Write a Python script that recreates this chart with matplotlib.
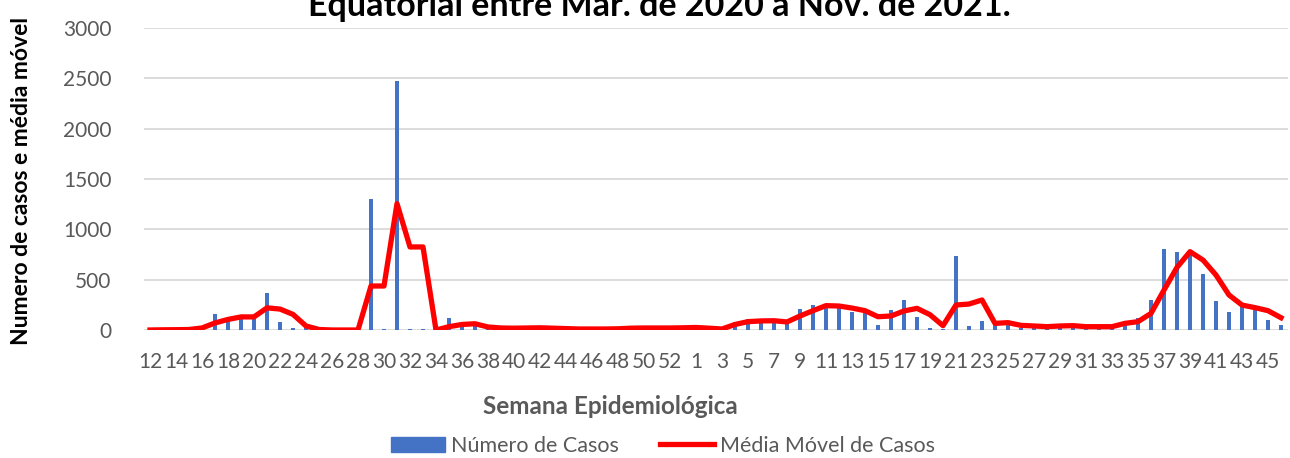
import matplotlib.pyplot as plt
from matplotlib.patches import Patch
from matplotlib.lines import Line2D

plt.rcParams['font.family'] = ['Lato', 'DejaVu Sans']

# semanas epidemiologicas: 2020 (12-53) e 2021 (1-46)
semanas = [str(w) for w in range(12, 54)] + [str(w) for w in range(1, 47)]

casos = [2, 3, 4, 8, 30, 160, 105, 110, 110, 365, 75, 20, 15, 3, 1, 0, 0, 1300, 10, 2470,
         5, 10, 2, 115, 60, 55, 15, 20, 20, 20, 18, 15, 10, 8, 10, 12, 15, 25, 20, 18,
         22, 25, 25, 5, 5, 75, 113, 95, 95, 80, 205, 248, 240, 215, 182, 165, 46, 200, 298, 132,
         20, 10, 738, 40, 93, 65, 60, 15, 40, 40, 35, 45, 25, 30, 40, 93, 122, 298, 804, 778,
         770, 553, 291, 179, 232, 199, 100, 50]

media_movel = [0, 2, 3, 5, 20, 70, 105, 130, 130, 220, 208, 155, 40, 5, 0, 0, 0, 437, 437, 1255,
               825, 825, 0, 33, 55, 62, 30, 20, 18, 20, 22, 18, 14, 10, 10, 10, 12, 18, 20, 20,
               20, 22, 25, 18, 10, 55, 83, 90, 92, 80, 139, 192, 242, 238, 218, 192, 132, 139, 189, 215,
               152, 43, 248, 258, 298, 66, 73, 46, 40, 33, 40, 43, 33, 33, 33, 66, 83, 165, 397, 622,
               778, 695, 546, 348, 248, 222, 192, 122]

cinza = '#595959'
W, H = 1290, 458
fig = plt.figure(figsize=(12.9, 4.58), dpi=100)
ax = fig.add_axes([143.5 / W, (H - 330) / H, 1144 / W, 302 / H])

x = list(range(len(semanas)))
ax.bar(x, casos, width=0.38, color='#4472C4', zorder=2)
ax.plot(x, media_movel, color='#FF0000', lw=3.8, solid_joinstyle='round', zorder=3)

ax.set_xlim(-0.5, len(semanas) - 0.5)
ax.set_ylim(0, 3000)
ax.set_yticks(range(0, 3001, 500))
ax.set_xticks(x[::2])
ax.set_xticklabels(semanas[::2])
ax.tick_params(axis='both', length=0, labelsize=15, labelcolor=cinza)
ax.tick_params(axis='y', pad=23)
ax.tick_params(axis='x', pad=16)
ax.grid(axis='y', color='#D9D9D9', lw=1.3, zorder=0)
for s in ax.spines.values():
    s.set_visible(False)

fig.text(659 / W, 1 - 16 / H, 'Equatorial entre Mar. de 2020 a Nov. de 2021.',
         ha='center', va='baseline', fontsize=24.5, fontweight='bold', color='black')
fig.text(22 / W, 1 - 181 / H, 'Numero de casos e média móvel', rotation=90,
         ha='center', va='center', fontsize=16.5, fontweight='bold', color='black')
fig.text(610 / W, 1 - 406 / H, 'Semana Epidemiológica', ha='center', va='center',
         fontsize=17.5, fontweight='bold', color=cinza)

handles = [Patch(color='#4472C4'), Line2D([], [], color='#FF0000', lw=3.8)]
fig.legend(handles, ['Número de Casos', 'Média Móvel de Casos'], loc='center',
           bbox_to_anchor=(663 / W, 1 - 446 / H), ncol=2, frameon=False, fontsize=15.5,
           labelcolor=cinza, handlelength=2.5, handletextpad=0.3, columnspacing=1.9)

fig.savefig('out.png', dpi=100)
